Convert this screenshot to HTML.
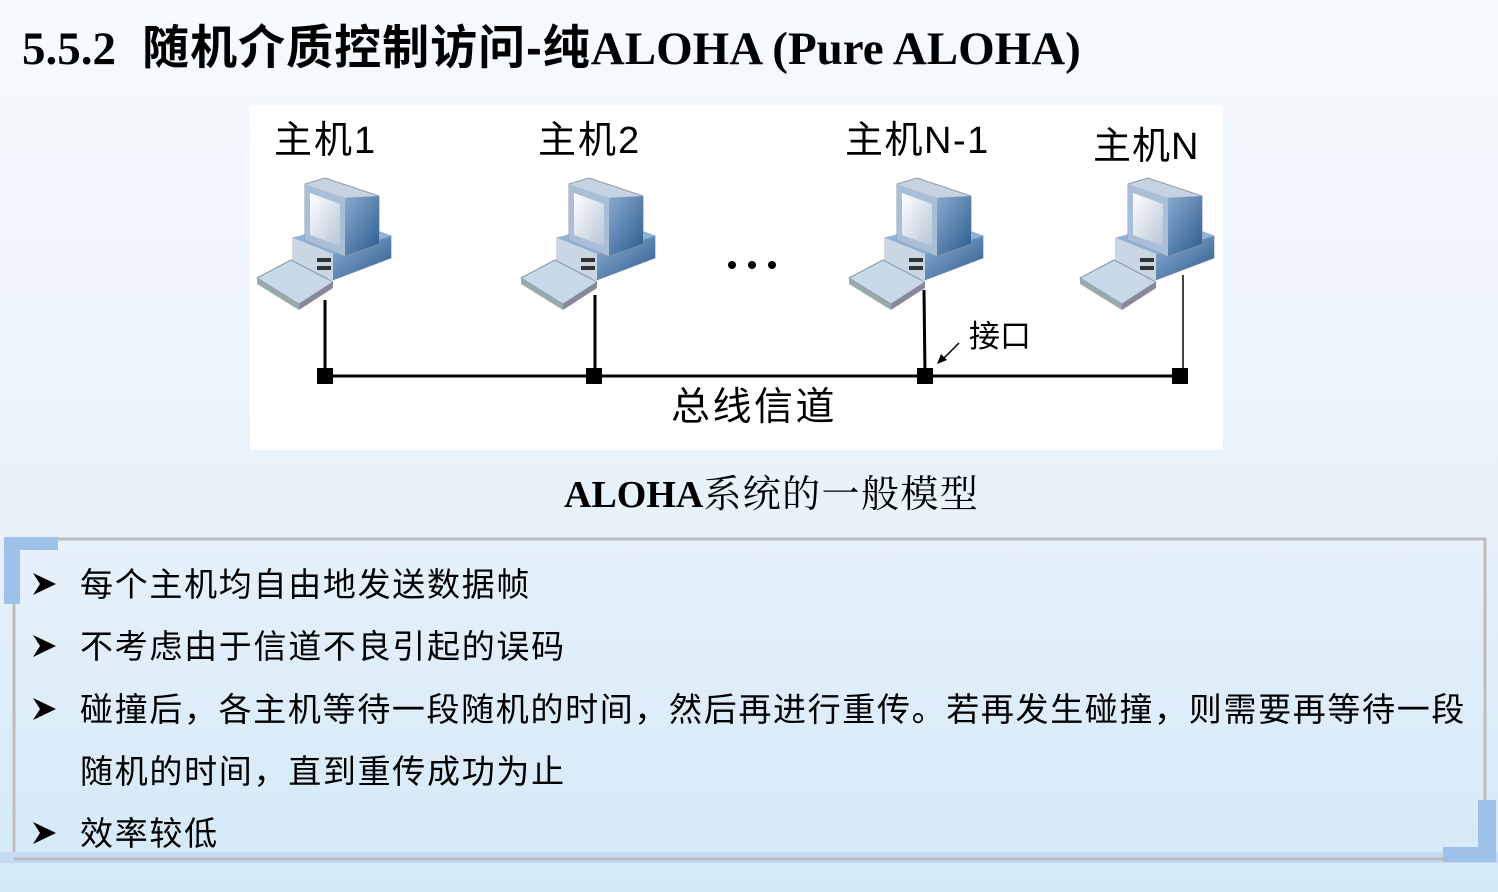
<!DOCTYPE html>
<html><head><meta charset="utf-8"><style>
html,body{margin:0;padding:0;}
body{width:1498px;height:892px;position:relative;overflow:hidden;background:linear-gradient(#f6fafe 0%,#eef5fc 40%,#e2eff9 70%,#d4e9f8 100%);font-family:"Liberation Sans","Noto Sans CJK SC",sans-serif;}
.t{position:absolute;white-space:nowrap;color:#000;}
</style></head><body>
<div class="t" style="left:22px;top:18px;font-size:47px;line-height:60px;font-weight:bold;"><span style="font-family:'Liberation Serif',serif;">5.5.2</span>&nbsp; <span style="letter-spacing:1px">随机介质控制访问-纯</span><span style="font-family:'Liberation Serif',serif;">ALOHA (Pure ALOHA)</span></div>

<svg style="position:absolute;left:0;top:0" width="1498" height="892">
<defs>
<linearGradient id="scr" x1="0" y1="0" x2="1" y2="1"><stop offset="0" stop-color="#ffffff"/><stop offset="1" stop-color="#b8c6d8"/></linearGradient>
<linearGradient id="bl" x1="0" y1="0" x2="1" y2="1"><stop offset="0" stop-color="#8fb2d6"/><stop offset="1" stop-color="#2c5a8c"/></linearGradient>
<g id="pc">
 <polygon points="36,60 96,44 134,58 134,80 76,102 36,86" fill="#d8dde4" stroke="#aab" stroke-width="1"/>
 <polygon points="36,60 96,44 134,58 76,76" fill="#8fb3d8"/>
 <polygon points="76,76 134,58 134,80 76,102" fill="url(#bl)"/>
 <polygon points="36,60 76,76 76,102 36,86" fill="#c9d6e4"/>
 <rect x="60" y="80" width="14" height="4" fill="#333"/><rect x="60" y="88" width="14" height="4" fill="#333"/>
 <polygon points="48,6 68,0 122,18 122,66 88,78 48,62" fill="#c5d3e2" stroke="#99a" stroke-width="1"/>
 <polygon points="82,20 122,18 122,66 88,78" fill="url(#bl)"/>
 <polygon points="48,6 88,20 88,78 48,62" fill="#a9bfd8"/>
 <polygon points="53,15 83,26 83,68 53,57" fill="url(#scr)"/>
 <polygon points="0,100 34,82 76,104 42,126" fill="#c9d9ea" stroke="#8899aa" stroke-width="1"/>
 <polygon points="0,100 42,126 42,132 0,106" fill="#9aa"/>
 <polygon points="42,126 76,104 76,110 42,132" fill="#889"/>
</g>
</defs>
<rect x="250" y="106" width="973" height="344" fill="#fff"/>
<use href="#pc" x="257" y="178"/>
<use href="#pc" x="521" y="178"/>
<use href="#pc" x="849" y="178"/>
<use href="#pc" x="1080" y="178"/>
<g stroke="#000" stroke-width="3" fill="none">
<line x1="325" y1="300" x2="325" y2="376"/>
<line x1="595" y1="295" x2="595" y2="376"/>
<line x1="924" y1="290" x2="925" y2="376"/>
<line x1="324" y1="376" x2="1180" y2="376"/>
</g>
<line x1="1183" y1="275" x2="1183" y2="376" stroke="#444" stroke-width="2"/>
<g fill="#000">
<rect x="317" y="368" width="16" height="16"/><rect x="586" y="368" width="16" height="16"/>
<rect x="917" y="368" width="16" height="16"/><rect x="1172" y="368" width="16" height="16"/>
<circle cx="732" cy="265" r="4"/><circle cx="752" cy="265" r="4"/><circle cx="772" cy="265" r="4"/>
</g>
<line x1="959" y1="343" x2="942" y2="360" stroke="#000" stroke-width="1.5"/>
<polygon points="937,364 941,354 947,360" fill="#000"/>
<rect x="14" y="539" width="1471" height="320" fill="none" stroke="#bdbdbd" stroke-width="3"/>
<rect x="0" y="852" width="1498" height="11" fill="#c4dbf3"/>
<line x1="14" y1="859" x2="1485" y2="859" stroke="#bdbdbd" stroke-width="3"/>
<rect x="4" y="537" width="54" height="13" fill="#9dc1e8"/>
<rect x="4" y="537" width="16" height="67" fill="#9dc1e8"/>
<rect x="1478" y="800" width="18" height="62" fill="#9dc1e8"/>
<rect x="1443" y="847" width="53" height="15" fill="#9dc1e8"/>
<g fill="#000">
<polygon points="33,573 56,584 33,595 40,584"/>
<polygon points="33,635 56,646 33,657 40,646"/>
<polygon points="33,698 56,709 33,720 40,709"/>
<polygon points="33,822 56,833 33,844 40,833"/>
</g>
</svg>

<div class="t" style="left:274px;top:118px;font-size:38px;line-height:46px;letter-spacing:2px;">主机1</div>
<div class="t" style="left:538px;top:118px;font-size:38px;line-height:46px;letter-spacing:2px;">主机2</div>
<div class="t" style="left:845px;top:118px;font-size:38px;line-height:46px;letter-spacing:1.5px;">主机N-1</div>
<div class="t" style="left:1093px;top:124px;font-size:38px;line-height:46px;letter-spacing:1px;">主机N</div>
<div class="t" style="left:969px;top:317px;font-size:31px;line-height:40px;">接口</div>
<div class="t" style="left:671px;top:384px;font-size:39px;line-height:48px;letter-spacing:2.5px;">总线信道</div>
<div class="t" style="left:564px;top:472px;font-size:38px;line-height:46px;font-family:'Liberation Serif','Noto Serif CJK SC',serif;"><b>ALOHA</b><span style="letter-spacing:1.4px">系统的一般模型</span></div>

<div class="t" style="left:80px;top:564px;font-size:33px;line-height:42px;letter-spacing:1.7px;">每个主机均自由地发送数据帧</div>
<div class="t" style="left:80px;top:626px;font-size:33px;line-height:42px;letter-spacing:1.7px;">不考虑由于信道不良引起的误码</div>
<div class="t" style="left:80px;top:689px;font-size:33px;line-height:42px;letter-spacing:1.65px;">碰撞后，各主机等待一段随机的时间，然后再进行重传。若再发生碰撞，则需要再等待一段</div>
<div class="t" style="left:80px;top:751px;font-size:33px;line-height:42px;letter-spacing:1.7px;">随机的时间，直到重传成功为止</div>
<div class="t" style="left:80px;top:813px;font-size:33px;line-height:42px;letter-spacing:1.7px;">效率较低</div>
</body></html>
